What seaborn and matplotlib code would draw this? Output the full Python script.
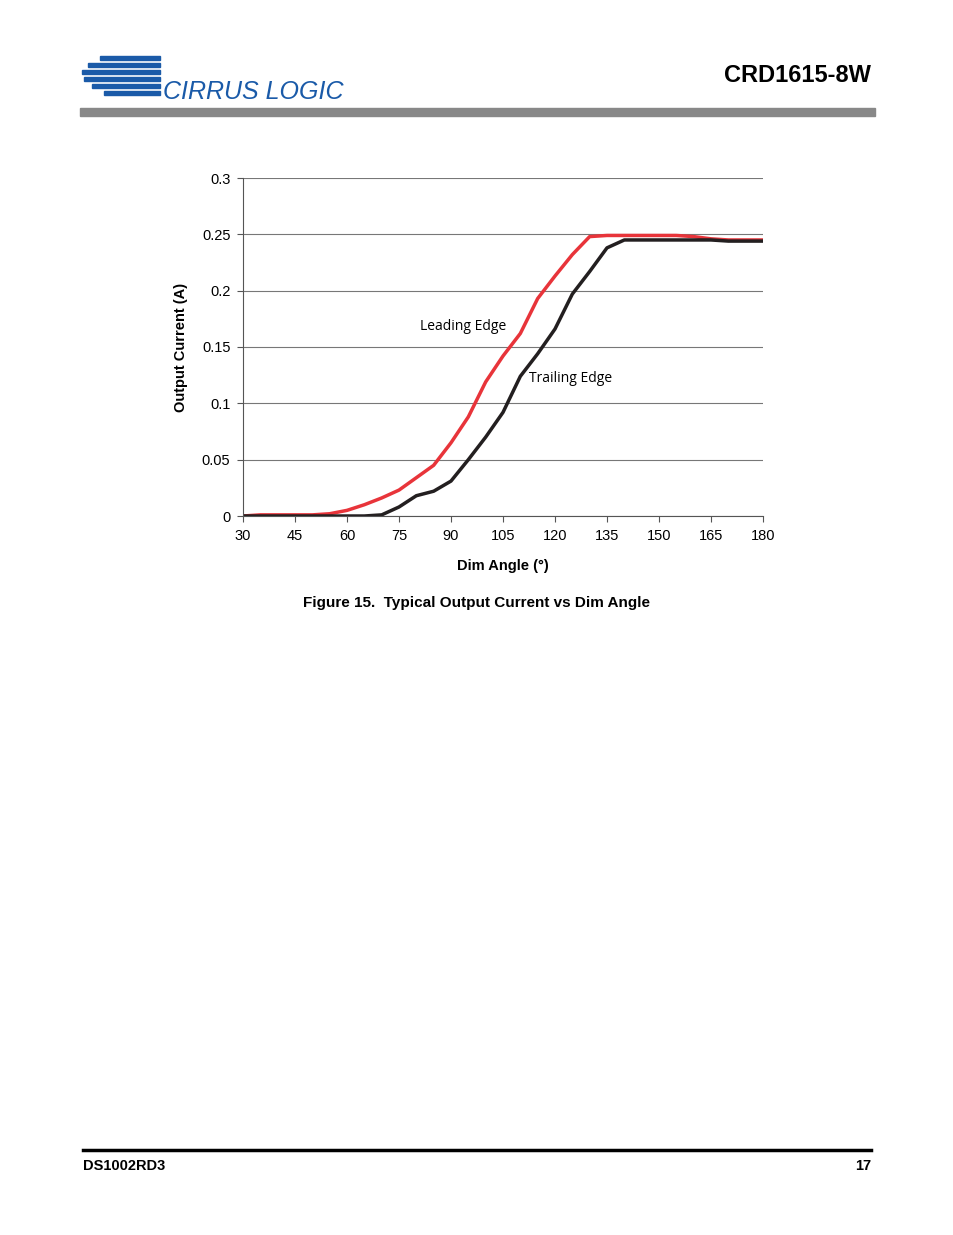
import numpy as np
import matplotlib
matplotlib.use('Agg')
import matplotlib.pyplot as plt
import seaborn as sns
import pandas as pd

angles = list(range(30, 181, 5))
leading = [0, 0.001, 0.001, 0.001, 0.001, 0.002, 0.005, 0.010, 0.016, 0.023, 0.034, 0.045,
           0.065, 0.088, 0.119, 0.142, 0.162, 0.193, 0.213, 0.232, 0.248, 0.249, 0.249,
           0.249, 0.249, 0.249, 0.248, 0.246, 0.245, 0.245, 0.245]
trailing = [0, 0, 0, 0, 0, 0, 0, 0, 0.001, 0.008, 0.018, 0.022, 0.031, 0.050, 0.070, 0.092,
            0.124, 0.144, 0.166, 0.197, 0.217, 0.238, 0.245, 0.245, 0.245, 0.245, 0.245,
            0.245, 0.244, 0.244, 0.244]
xticks = [30, 45, 60, 75, 90, 105, 120, 135, 150, 165, 180]
yticks = [0, 0.05, 0.1, 0.15, 0.2, 0.25, 0.3]
yticklabels = ['0', '0.05', '0.1', '0.15', '0.2', '0.25', '0.3']

plt.rcParams['font.family'] = 'Liberation Sans'
W, H = 954, 1235
fig = plt.figure(figsize=(W / 100, H / 100), dpi=100)

def fx(px): return px / W
def fy(py): return 1 - py / H

# header
fig.text(fx(871), fy(75), 'CRD1615-8W', ha='right', va='center', fontsize=17, fontweight='bold')
fig.patches.append(plt.Rectangle((fx(80), fy(116)), fx(795), 8 / H, color='#888888',
                                 transform=fig.transFigure))
for i, (x0, w) in enumerate([(100, 60), (88, 72), (82, 78), (84, 76), (92, 68), (104, 56)]):
    y = 56 + i * 7
    fig.patches.append(plt.Rectangle((fx(x0), fy(y + 4)), w / W, 4 / H, color='#1a5aa8',
                                     transform=fig.transFigure))
fig.text(fx(163), fy(92), 'CIRRUS LOGIC', ha='left', va='center', fontsize=18,
         color='#1a5aa8', style='italic')

# footer
fig.add_artist(plt.Line2D([fx(83), fx(871)], [fy(1150), fy(1150)], color='black', lw=2.5))
fig.text(fx(83), fy(1166), 'DS1002RD3', ha='left', va='center', fontsize=10.5, fontweight='bold')
fig.text(fx(871), fy(1166), '17', ha='right', va='center', fontsize=10.5, fontweight='bold')
fig.text(fx(477), fy(603), 'Figure 15.  Typical Output Current vs Dim Angle', ha='center',
         va='center', fontsize=11, fontweight='bold')

ax = fig.add_axes([fx(243), fy(516), (763 - 243) / W, (516 - 178) / H])
df = pd.DataFrame({'angle': angles * 2, 'current': leading + trailing,
                   'series': ['Leading Edge'] * len(angles) + ['Trailing Edge'] * len(angles)})
sns.lineplot(data=df, x='angle', y='current', hue='series',
             palette={'Leading Edge': '#e8343a', 'Trailing Edge': '#231f20'},
             lw=2.5, legend=False, ax=ax)
ax.set_xlim(30, 180)
ax.set_ylim(0, 0.3)
ax.set_xticks(xticks)
ax.set_yticks(yticks)
ax.set_yticklabels(yticklabels)
ax.tick_params(labelsize=10.5, length=4, color='#555555', pad=5)
ax.grid(axis='y', color='#777777', lw=0.8)
ax.set_axisbelow(True)
for s in ['top', 'right']:
    ax.spines[s].set_visible(False)
ax.spines['left'].set_color('#555555')
ax.spines['bottom'].set_color('#555555')
ax.set_xlabel('Dim Angle (°)', fontsize=10.5, fontweight='bold', labelpad=12)
ax.set_ylabel('Output Current (A)', fontsize=10.5, fontweight='bold', labelpad=10)
ax.text(81, 0.168, 'Leading Edge', fontsize=10, family='Open Sans', va='center')
ax.text(112.5, 0.122, 'Trailing Edge', fontsize=10, family='Open Sans', va='center')

fig.savefig('out.png', dpi=100)
